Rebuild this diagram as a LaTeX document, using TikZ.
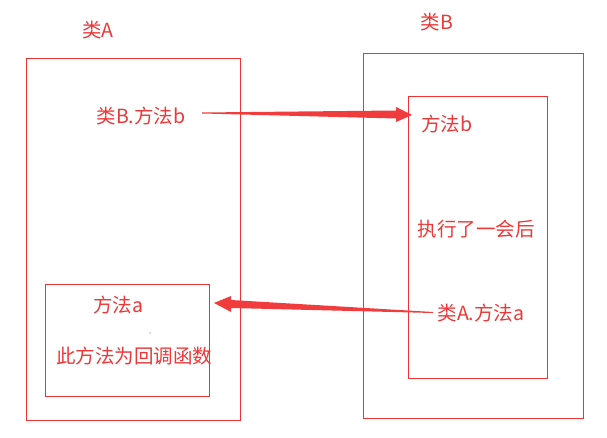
\documentclass[tikz,border=0pt]{standalone}
\usepackage{fontspec}
\newfontfamily\cjk{Noto Sans CJK SC}
\definecolor{boxred}{RGB}{240,50,50}
\definecolor{txtred}{RGB}{238,55,55}
\definecolor{arrred}{RGB}{240,60,60}
\begin{document}
\begin{tikzpicture}[x=1pt,y=-1pt,
  frame/.style={draw=boxred,line width=0.9pt},
  lbl/.style={text=txtred,font=\cjk\fontsize{19.5}{22}\selectfont,inner sep=0pt}]
\useasboundingbox[fill=white] (0,0) rectangle (607,438);
% boxes
\draw[frame] (26,58) rectangle (240,420);
\draw[frame] (363,53) rectangle (583,418);
\draw[frame] (408,96) rectangle (547,378);
\draw[frame] (45,284) rectangle (209,396);
% labels
\node[lbl] (cA) at (98,30) {类A};
\node[lbl] (cB) at (437,22) {类B};
\node[lbl] (callb) at (141,116) {类B.方法b};
\node[lbl] (mb) at (447,124) {方法b};
\node[lbl] (exec) at (476,229) {执行了一会后};
\node[lbl] (calla) at (481,313) {类A.方法a};
\node[lbl] (ma) at (118,305) {方法a};
\node[lbl] (cbk) at (134,356) {此方法为回调函数};
\fill[txtred] (150,333) circle (0.6);
% arrows as tapered wedges
\coordinate (s1) at (202,112.5);
\coordinate (t1) at (412,115);
\fill[arrred] (s1) -- (396,110.5) -- (396,107) -- (t1) -- (396,122) -- (396,118.5) -- (202,113.5) -- cycle;
\coordinate (s2) at (433,312);
\coordinate (t2) at (214,303);
\fill[arrred] (s2) -- (231,300) -- (231,296) -- (t2) -- (231,312) -- (231,308) -- (433,313) -- cycle;
\end{tikzpicture}
\end{document}
